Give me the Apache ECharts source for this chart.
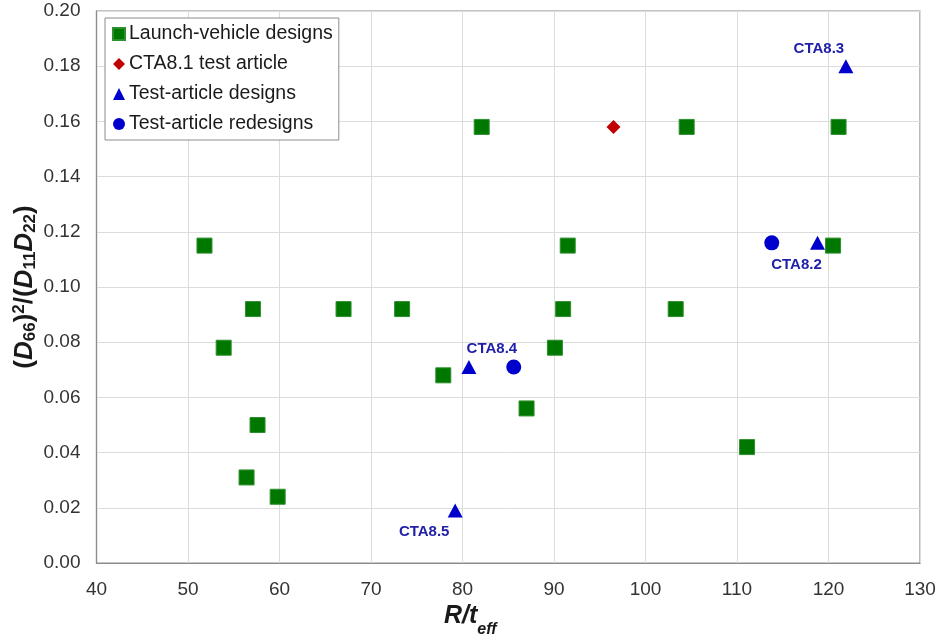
<!DOCTYPE html>
<html>
<head>
<meta charset="utf-8">
<script src="https://cdn.jsdelivr.net/npm/echarts@6/dist/echarts.min.js"></script>
<style>
  html, body { margin: 0; padding: 0; background: #fff; }
  #chart { width: 940px; height: 636px; }
</style>
</head>
<body>
<div id="chart"></div>
<script>
// Stiffness ratio vs. radius-to-thickness for the design sets
const launchVehicleDesigns = [
  [51.8, 0.115], [53.9, 0.078], [57.1, 0.092], [57.6, 0.050], [56.4, 0.031],
  [59.8, 0.024], [67.0, 0.092], [73.4, 0.092], [77.9, 0.068], [82.1, 0.158],
  [87.0, 0.056], [90.1, 0.078], [91.0, 0.092], [91.5, 0.115], [103.3, 0.092],
  [104.5, 0.158], [111.1, 0.042], [120.5, 0.115], [121.1, 0.158]
];
const cta81TestArticle = [[96.5, 0.158]];
const testArticleDesigns = [
  [118.8, 0.116], [121.9, 0.180], [80.7, 0.071], [79.2, 0.019]
];
const testArticleNames = ['CTA8.2', 'CTA8.3', 'CTA8.4', 'CTA8.5'];
const testArticleRedesigns = [[113.8, 0.116], [85.6, 0.071]];

const FONT = '"Liberation Sans", Arial, sans-serif';
const labelOffsets = {
  'CTA8.2': [-21, 22],
  'CTA8.3': [-27, -17],
  'CTA8.4': [23, -18],
  'CTA8.5': [-31, 21]
};

const chart = echarts.init(document.getElementById('chart'));

const titleStyle = (size, lh, extra) => Object.assign({
  fontSize: size, fontWeight: 'bold', color: '#1a1a1a', fontFamily: FONT, lineHeight: lh
}, extra || {});

chart.setOption({
  backgroundColor: '#ffffff',
  animation: false,
  textStyle: { fontFamily: FONT },
  grid: {
    left: 96.5, right: 20, top: 11, bottom: 73,
    outerBoundsMode: 'none',
    containLabel: false,
    show: true, borderColor: '#8c8c8c', borderWidth: 1.2
  },
  legend: {
    orient: 'vertical',
    left: 105, top: 18,
    padding: [5, 6, 5, 7],
    itemGap: 8,
    itemWidth: 12, itemHeight: 12,
    backgroundColor: '#ffffff',
    borderColor: '#8c8c8c', borderWidth: 1,
    borderRadius: 0,
    textStyle: { fontSize: 19.5, color: '#1a1a1a', fontFamily: FONT, lineHeight: 22, padding: [0, 0, 0, -1] },
    data: [
      { name: 'Launch-vehicle designs', icon: 'rect' },
      { name: 'CTA8.1 test article', icon: 'diamond' },
      { name: 'Test-article designs', icon: 'triangle' },
      { name: 'Test-article redesigns', icon: 'circle' }
    ]
  },
  xAxis: {
    type: 'value', min: 40, max: 130, interval: 10,
    axisLine: { show: true, lineStyle: { color: '#8c8c8c', width: 1.2 } },
    axisTick: { show: false },
    splitLine: { show: true, lineStyle: { color: '#dcdcdc', width: 1 } },
    axisLabel: { fontSize: 19, color: '#333', margin: 17, fontFamily: FONT },
    name: '{it|R/t}{sub|eff}',
    nameLocation: 'middle',
    nameGap: 32,
    nameTextStyle: {
      padding: [0, 76, 0, 0],
      rich: {
        it: titleStyle(25, 34, { fontStyle: 'italic', verticalAlign: 'top' }),
        sub: titleStyle(16, 34, { fontStyle: 'italic', verticalAlign: 'bottom' })
      }
    }
  },
  yAxis: {
    type: 'value', min: 0, max: 0.2, interval: 0.02,
    axisLine: { show: true, lineStyle: { color: '#8c8c8c', width: 1.2 } },
    axisTick: { show: false },
    splitLine: { show: true, lineStyle: { color: '#dcdcdc', width: 1 } },
    axisLabel: {
      fontSize: 19, color: '#333', margin: 16, fontFamily: FONT,
      formatter: v => v.toFixed(2)
    },
    name: '{b|(}{bi|D}{sub|66}{b|)}{sup|2}{b|/(}{bi|D}{sub|11}{bi|D}{sub|22}{b|)}',
    nameLocation: 'middle',
    nameRotate: 90,
    nameGap: 58,
    nameMoveOverlap: false,
    nameTextStyle: {
      rich: {
        b: titleStyle(26, 28, { verticalAlign: 'middle' }),
        bi: titleStyle(26, 28, { fontStyle: 'italic', verticalAlign: 'middle' }),
        sub: titleStyle(17, 28, { verticalAlign: 'bottom' }),
        sup: titleStyle(17, 28, { verticalAlign: 'top' })
      }
    }
  },
  series: [
    {
      name: 'Launch-vehicle designs',
      type: 'scatter',
      symbol: 'rect',
      symbolSize: 15,
      itemStyle: { color: '#007800', borderColor: '#2e8f2e', borderWidth: 1, opacity: 1 },
      data: launchVehicleDesigns,
      z: 2
    },
    {
      name: 'CTA8.1 test article',
      type: 'scatter',
      symbol: 'diamond',
      symbolSize: [14, 14],
      itemStyle: { color: '#c00000', opacity: 1 },
      data: cta81TestArticle,
      z: 3
    },
    {
      name: 'Test-article designs',
      type: 'scatter',
      symbol: 'triangle',
      symbolSize: [15, 14],
      itemStyle: { color: '#0000cc', opacity: 1 },
      data: testArticleDesigns.map((p, i) => ({
        value: p,
        name: testArticleNames[i],
        label: {
          show: true,
          formatter: testArticleNames[i],
          position: 'inside',
          offset: labelOffsets[testArticleNames[i]],
          color: '#2020a8',
          fontSize: 15,
          fontWeight: 'bold',
          fontFamily: FONT
        }
      })),
      z: 4
    },
    {
      name: 'Test-article redesigns',
      type: 'scatter',
      symbol: 'circle',
      symbolSize: 15,
      itemStyle: { color: '#0000cc', opacity: 1 },
      data: testArticleRedesigns,
      z: 4
    }
  ]
});
</script>
</body>
</html>
